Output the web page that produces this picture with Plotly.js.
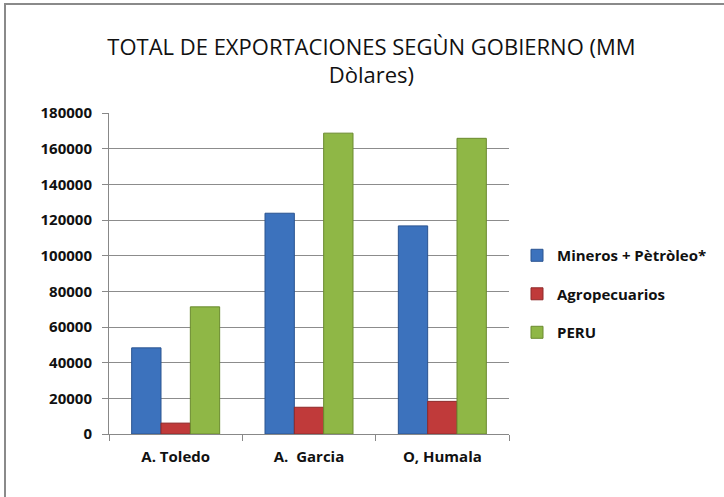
<!DOCTYPE html>
<html><head><meta charset="utf-8">
<script src="https://cdn.plot.ly/plotly-3.0.1.min.js"></script>
<style>
html,body{margin:0;padding:0;background:#fff;}
#frame{position:absolute;left:4px;top:3px;width:730px;height:500px;border:2px solid #8a8a8a;box-sizing:border-box;}
#chart{position:absolute;left:0;top:0;width:724px;height:497px;}
</style></head>
<body>
<div id="frame"></div>
<div id="chart"></div>
<script>
const categories = ["A. Toledo", "A.  Garcia", "O, Humala"];
const seriesNames = ["Mineros + Pètròleo*", "Agropecuarios", "PERU"];
const mineros = [48300, 123800, 116700];
const agro = [6100, 15000, 18300];
const peru = [71300, 168700, 165800];
const yTicks = [0, 20000, 40000, 60000, 80000, 100000, 120000, 140000, 160000, 180000];

const fontFam = "Open Sans, sans-serif";
const fills = ["#3c72bd", "#c03a3a", "#8fb746"];
const edges = ["#2a5490", "#8e2a2a", "#6a8a2e"];
const vals = [mineros, agro, peru];

const traces = vals.map((v, i) => ({
  type: "bar", name: seriesNames[i], x: categories, y: v, legendgroup: "g" + i,
  marker: {color: fills[i], line: {color: edges[i], width: 1}}
}));

const layout = {
  width: 724, height: 497,
  paper_bgcolor: "rgba(0,0,0,0)", plot_bgcolor: "rgba(0,0,0,0)",
  margin: {l: 109, r: 212, t: 113, b: 63},
  title: {text: "TOTAL DE EXPORTACIONES SEGÙN GOBIERNO (MM<br>Dòlares)",
    font: {family: fontFam, size: 22, color: "#111"}, x: 0.513, xref: "container", xanchor: "center",
    y: 0.89, yref: "container", yanchor: "middle"},
  bargap: 0.34, bargroupgap: 0,
  showlegend: true,
  legend: {x: 1.02, y: 0.436, xanchor: "left", yanchor: "middle",
    font: {family: fontFam, size: 15, color: "#111", weight: "bold"},
    tracegroupgap: 16, itemwidth: 30},
  xaxis: {type: "category", showgrid: false, showline: true, linecolor: "#888",
    ticks: "outside", ticklen: 6, tickcolor: "#888", tickson: "boundaries",
    tickfont: {family: fontFam, size: 15, color: "#111", weight: "bold"}, ticklabelstandoff: 9},
  yaxis: {range: [0, 180000], tickvals: yTicks, ticktext: yTicks.map(String),
    showgrid: true, gridcolor: "#8c8c8c", gridwidth: 1, zeroline: false,
    showline: true, linecolor: "#888", ticks: "outside", ticklen: 6, tickcolor: "#888",
    tickfont: {family: fontFam, size: 15, color: "#111", weight: "bold"}, ticklabelstandoff: 7}
};
Plotly.newPlot("chart", traces, layout, {displayModeBar: false});
</script>
</body></html>
